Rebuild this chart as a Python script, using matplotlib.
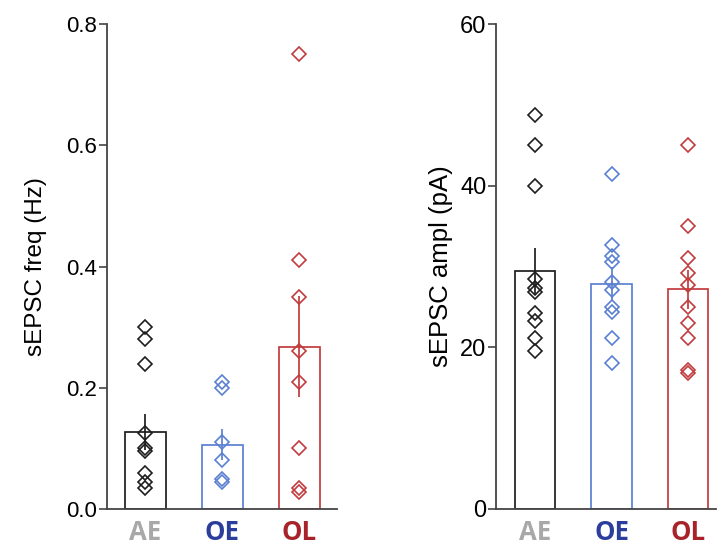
import matplotlib
matplotlib.use("Agg")
import matplotlib.pyplot as plt
import numpy as np

groups = ["AE", "OE", "OL"]

# sEPSC frequency (Hz), individual cells
freq_AE = [0.30, 0.28, 0.24, 0.125, 0.10, 0.095, 0.06, 0.045, 0.035]
freq_OE = [0.21, 0.20, 0.11, 0.08, 0.05, 0.045]
freq_OL = [0.75, 0.41, 0.35, 0.26, 0.21, 0.10, 0.035, 0.028]
freq_mean = [0.127, 0.106, 0.268]
freq_sem = [0.029, 0.026, 0.083]

# sEPSC amplitude (pA), individual cells
ampl_AE = [48.7, 45.0, 40.0, 28.5, 27.3, 26.8, 24.2, 23.3, 21.1, 19.5]
ampl_OE = [41.5, 32.7, 31.3, 30.6, 28.1, 27.1, 25.0, 24.4, 21.1, 18.1]
ampl_OL = [45.0, 35.0, 31.1, 29.2, 27.7, 25.0, 23.0, 21.1, 17.2, 16.8]
ampl_mean = [29.4, 27.9, 27.2]
ampl_sem = [2.9, 2.1, 2.4]

bar_colors = ["#1e1e1e", "#5b80d2", "#c23b3d"]
label_colors = ["#a8a8a8", "#2c3e9c", "#a82329"]

plt.rcParams["font.family"] = ["Liberation Sans", "DejaVu Sans"]

fig = plt.figure(figsize=(7.17, 5.46), dpi=100)
ax1 = fig.add_axes([0.149, 0.0678, 0.321, 0.888])
ax2 = fig.add_axes([0.692, 0.0678, 0.306, 0.888])


def panel(ax, points, means, sems, ylim, yticks, ylabel, xlim,
          tick_size, label_size, label_x):
    x = np.arange(len(groups))
    for i in range(len(groups)):
        ax.bar(x[i], means[i], width=0.53, facecolor="none",
               edgecolor=bar_colors[i], linewidth=1.25, zorder=2)
        ax.errorbar(x[i], means[i], yerr=sems[i], fmt="none",
                    ecolor=bar_colors[i], elinewidth=1.25, capsize=0, zorder=3)
        ax.plot(np.full(len(points[i]), x[i]), points[i], linestyle="none",
                marker="D", markersize=7.0, markerfacecolor="none",
                markeredgecolor=bar_colors[i], markeredgewidth=1.2, zorder=4)
    ax.set_xlim(*xlim)
    ax.set_ylim(*ylim)
    ax.set_yticks(yticks)
    ax.set_xticks(x)
    ax.set_xticklabels(groups, fontsize=18.5, fontweight="bold",
                       family=["Open Sans", "DejaVu Sans"])
    for lbl, c in zip(ax.get_xticklabels(), label_colors):
        lbl.set_color(c)
    ax.tick_params(axis="x", length=0, pad=7)
    ax.tick_params(axis="y", length=6, width=1.2, color="#444444",
                   labelsize=tick_size, pad=1)
    for s in ("top", "right"):
        ax.spines[s].set_visible(False)
    for s in ("left", "bottom"):
        ax.spines[s].set_color("#444444")
        ax.spines[s].set_linewidth(1.3)
    ax.set_ylabel(ylabel, fontsize=label_size)
    ax.yaxis.set_label_coords(label_x, 0.5)


panel(ax1, [freq_AE, freq_OE, freq_OL], freq_mean, freq_sem,
      (0, 0.8), [0.0, 0.2, 0.4, 0.6, 0.8], "sEPSC freq (Hz)", (-0.5, 2.49),
      16, 17.5, -0.262)
ax1.set_yticklabels(["0.0", "0.2", "0.4", "0.6", "0.8"])

panel(ax2, [ampl_AE, ampl_OE, ampl_OL], ampl_mean, ampl_sem,
      (0, 60), [0, 20, 40, 60], "sEPSC ampl (pA)", (-0.51, 2.36),
      17, 18.5, -0.196)

fig.savefig("out.png", dpi=100)
